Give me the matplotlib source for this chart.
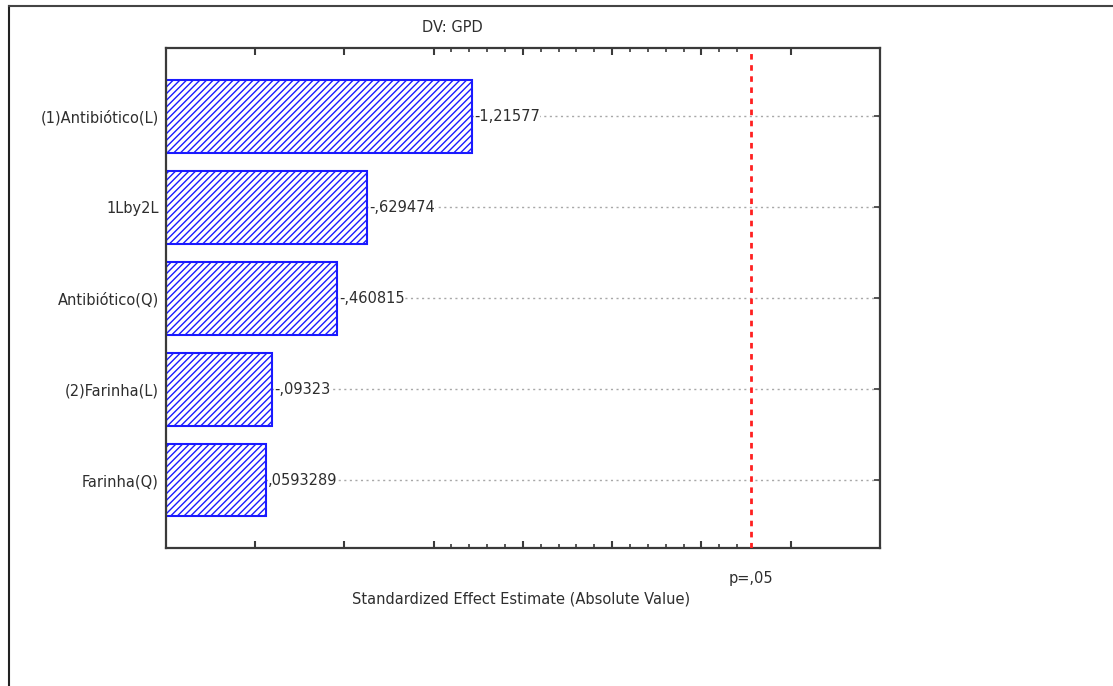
import numpy as np  # operações com arrays
import matplotlib
matplotlib.use('Agg')
import matplotlib.pyplot as plt  # gráficos
from matplotlib.lines import Line2D

# Fatores do modelo (ordem do gráfico de Pareto, de cima para baixo)
fatores = ['(1)Antibiótico(L)', '1Lby2L', 'Antibiótico(Q)', '(2)Farinha(L)', 'Farinha(Q)']
# Efeitos estimados (com sinal) de cada fator
efeitos = [-1.21577, -0.629474, -0.460815, -0.09323, 0.0593289]
# Valor crítico de t para p = 0,05
t_critico = 2.776

titulo = 'DV: GPD'
rotulo_x = 'Standardized Effect Estimate (Absolute Value)'
rotulo_p = 'p=,05'

plt.rcParams['font.family'] = ['DejaVu Sans']
plt.rcParams['hatch.color'] = '#2020ff'
plt.rcParams['hatch.linewidth'] = 1.0

x_min, x_max = -0.5, 3.5
cor_texto = '#2e2e2e'
cor_eixo = '#3a3a3a'
tam = 10.5


# Formato dos rótulos: vírgula decimal e sem zero à esquerda
def formata(v):
    s = repr(v).replace('.', ',')
    s = s.replace('-0,', '-,')
    if s.startswith('0,'):
        s = s[1:]
    return s


fig = plt.figure(figsize=(11.13, 6.86), dpi=100)
ax = fig.add_axes([165.7 / 1113, 1 - 548.3 / 686, (880 - 165.7) / 1113, (548.3 - 48.3) / 686])

y = np.arange(len(fatores))
valores = np.abs(efeitos)

# Linhas pontilhadas de cada fator
for yi in y:
    ax.axhline(yi, color='#a8a8a8', linestyle=(0, (1.5, 2.5)), linewidth=1.0, zorder=0)

# Barras partindo do início do eixo
ax.barh(y, valores - x_min, left=x_min, height=0.8, color='white',
        edgecolor='#1a1aff', hatch='/////', linewidth=1.5, zorder=2)

# Rótulos dos efeitos ao final de cada barra
for yi, v, e in zip(y, valores, efeitos):
    ax.text(v + 0.012, yi, formata(e), ha='left', va='center', fontsize=tam,
            color=cor_texto, zorder=3,
            bbox=dict(facecolor='white', edgecolor='none', pad=0.05))

# Linha do valor crítico
ax.axvline(t_critico, color='#ff2020', linestyle=(0, (2, 2)), linewidth=2.0, zorder=4)

ax.set_xlim(x_min, x_max)
ax.set_ylim(len(fatores) - 0.25, -0.75)

ax.set_yticks(y)
ax.set_yticklabels(fatores, fontsize=tam, color=cor_texto)
ax.set_xticks(np.arange(0, 3.01, 0.5))
ax.set_xticklabels([])
menores = [m for m in np.round(np.arange(1.1, 2.75, 0.1), 1) if m not in (1.5, 2.0, 2.5)]
ax.set_xticks(menores, minor=True)
ax.tick_params(axis='x', which='major', direction='in', length=5, width=1.5,
               top=True, bottom=True, color=cor_eixo)
ax.tick_params(axis='x', which='minor', direction='in', length=3, width=1.2,
               top=True, bottom=True, color=cor_eixo)
ax.tick_params(axis='y', which='major', direction='in', length=4, width=1.2,
               left=True, right=True, color=cor_eixo, pad=5)

for s in ax.spines.values():
    s.set_linewidth(1.6)
    s.set_color(cor_eixo)

ax.text(t_critico, -0.045, rotulo_p, transform=ax.get_xaxis_transform(),
        ha='center', va='top', fontsize=tam, color=cor_texto)
fig.text(521 / 1113, 1 - 599 / 686, rotulo_x, ha='center', va='center',
         fontsize=tam, color=cor_texto)
fig.text(452 / 1113, 1 - 28 / 686, titulo, ha='center', va='center',
         fontsize=tam, color=cor_texto)

# Moldura externa da figura
fig.add_artist(Line2D([9 / 1113, 9 / 1113], [0, 1 - 6 / 686], transform=fig.transFigure,
                      color='#222222', linewidth=1.5))
fig.add_artist(Line2D([9 / 1113, 1], [1 - 6 / 686, 1 - 6 / 686], transform=fig.transFigure,
                      color='#444444', linewidth=1.5))

fig.savefig('out.png', dpi=100)
